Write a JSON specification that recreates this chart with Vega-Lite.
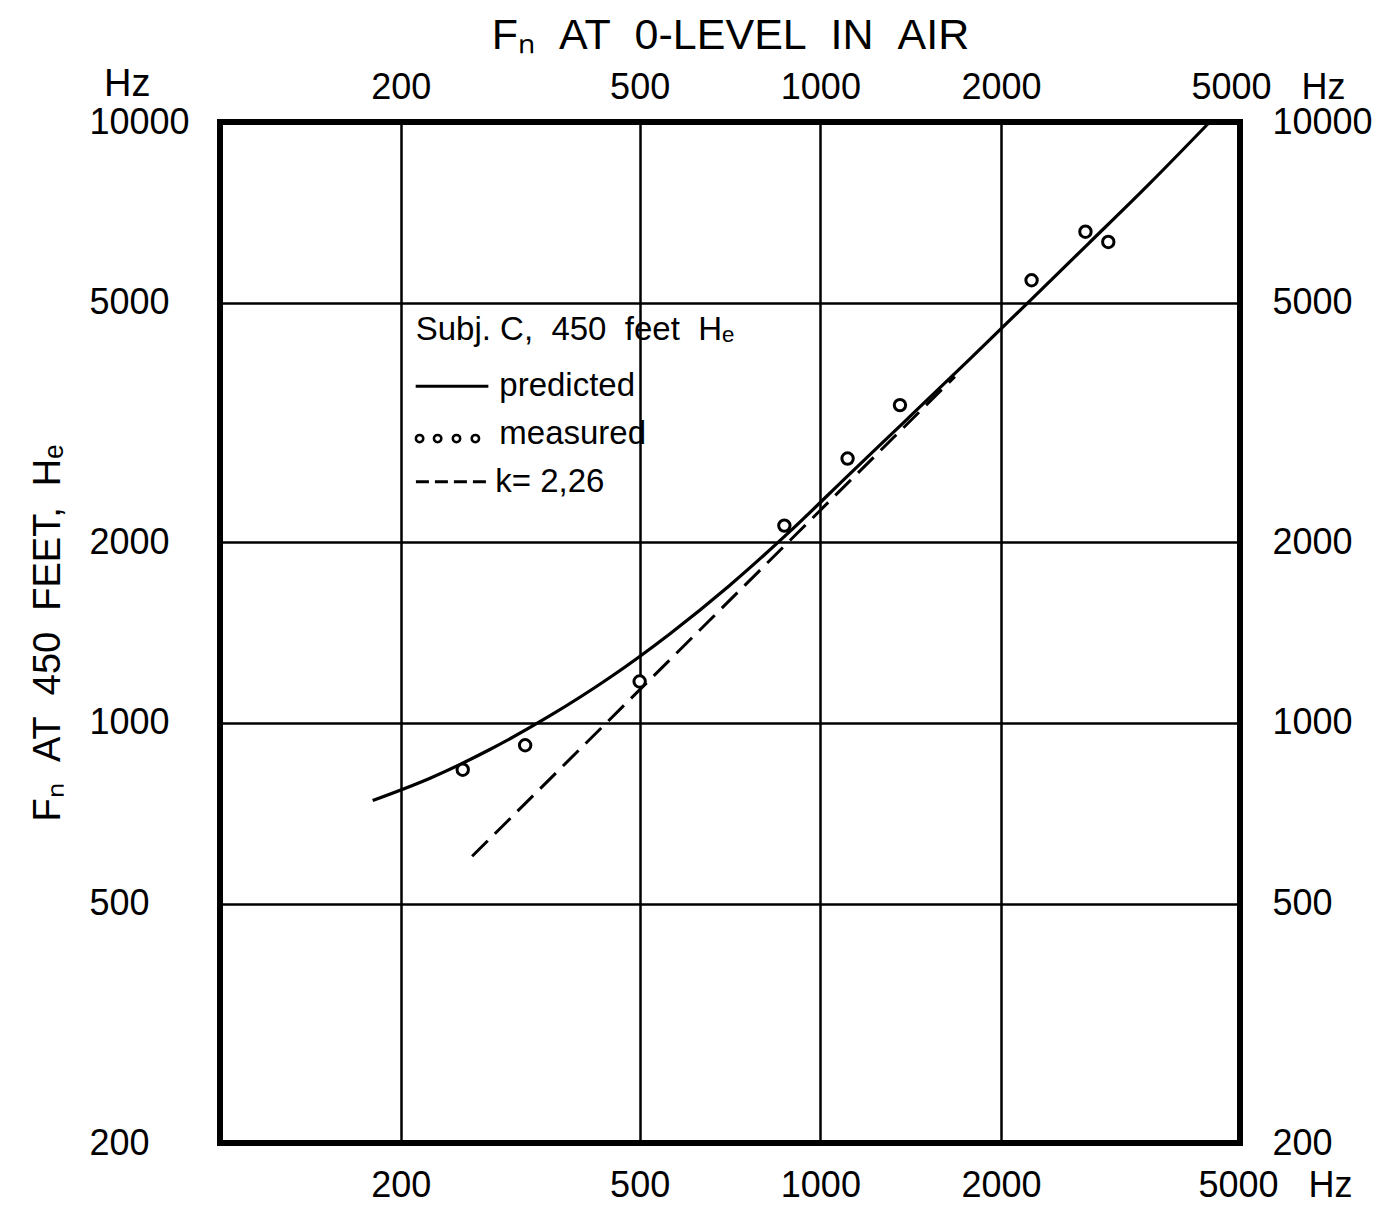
{
  "$schema": "https://vega.github.io/schema/vega-lite/v6.json",
  "autosize": "none",
  "width": 1020,
  "height": 1021,
  "padding": {"left": 220, "top": 122, "right": 136, "bottom": 66},
  "background": "white",
  "config": {
    "font": "Liberation Sans",
    "view": {"stroke": "black", "strokeWidth": 6},
    "axis": {"labelColor": "black", "titleColor": "black", "labelFont": "Liberation Sans", "titleFont": "Liberation Sans"}
  },
  "datasets": {
    "predicted": [
      {"f0": 179.6, "fh": 743},
      {"f0": 224.3, "fh": 810},
      {"f0": 282.0, "fh": 904},
      {"f0": 354.6, "fh": 1028},
      {"f0": 446.0, "fh": 1190},
      {"f0": 560.5, "fh": 1405},
      {"f0": 704.4, "fh": 1690},
      {"f0": 885.3, "fh": 2073},
      {"f0": 1113, "fh": 2582},
      {"f0": 1401, "fh": 3216},
      {"f0": 1763, "fh": 4009},
      {"f0": 2220, "fh": 5012},
      {"f0": 2799, "fh": 6282},
      {"f0": 3531, "fh": 7889},
      {"f0": 4452, "fh": 10000}
    ],
    "kline": [
      {"f0": 263, "fh": 600},
      {"f0": 1675, "fh": 3770}
    ],
    "measured": [
      {"f0": 253.7, "fh": 836},
      {"f0": 322.3, "fh": 918},
      {"f0": 500, "fh": 1172},
      {"f0": 871, "fh": 2130},
      {"f0": 1110, "fh": 2754},
      {"f0": 1357, "fh": 3380},
      {"f0": 2248, "fh": 5454},
      {"f0": 2764, "fh": 6568},
      {"f0": 3017, "fh": 6316}
    ],
    "legendText": [
      {"lx": 211.8, "ly": 4336, "label": "Subj. C,\u00a0\u00a0450\u00a0\u00a0feet\u00a0\u00a0Hₑ"},
      {"lx": 291.9, "ly": 3495, "label": "predicted"},
      {"lx": 291.9, "ly": 2916, "label": "measured"},
      {"lx": 287.4, "ly": 2425, "label": "k= 2,26"}
    ],
    "legendSolid": [{"x1": 211.8, "x2": 279.9, "y": 3633}],
    "legendDash": [{"x1": 212, "x2": 282, "y": 2520}],
    "legendDots": [
      {"x": 215, "y": 2973},
      {"x": 230.4, "y": 2973},
      {"x": 247.7, "y": 2973},
      {"x": 266.3, "y": 2973}
    ]
  },
  "layer": [
    {
      "data": {"name": "predicted"},
      "mark": {"type": "line", "color": "black", "strokeWidth": 3.2, "interpolate": "monotone"},
      "encoding": {
        "x": {
          "field": "f0", "type": "quantitative",
          "scale": {"type": "log", "domain": [100, 5000], "nice": false, "zero": false},
          "axis": {
            "orient": "bottom", "values": [200, 500, 1000, 2000, 5000], "format": "d",
            "grid": true, "gridColor": "black", "gridWidth": 2.5, "gridOpacity": 1,
            "ticks": false, "domain": false, "labelPadding": 25, "labelFontSize": 36,
            "labelExpr": "datum.value == 5000 ? '5000\u00a0\u00a0\u00a0Hz' : format(datum.value, 'd')",
            "labelOffset": {"condition": {"test": "datum.value == 5000", "value": 35}, "value": 0},
            "labelFlush": false, "labelOverlap": false, "labelBound": false, "title": null
          }
        },
        "y": {
          "field": "fh", "type": "quantitative",
          "scale": {"type": "log", "domain": [200, 10000], "nice": false, "zero": false},
          "axis": {
            "orient": "left", "values": [200, 500, 1000, 2000, 5000, 10000], "format": "d",
            "grid": true, "gridColor": "black", "gridWidth": 2.5, "gridOpacity": 1,
            "ticks": false, "domain": false, "labelPadding": 131, "labelFontSize": 36,
            "labelAlign": "left", "labelBaseline": "middle",
            "labelFlush": false, "labelOverlap": false, "labelBound": false,
            "title": "Fₙ\u00a0\u00a0AT\u00a0\u00a0450\u00a0\u00a0FEET,\u00a0\u00a0Hₑ", "titleFontSize": 38, "titleFontWeight": "normal", "titlePadding": 22
          }
        }
      }
    },
    {
      "data": {"name": "kline"},
      "mark": {"type": "line", "color": "black", "strokeWidth": 3, "strokeDash": [22, 10]},
      "encoding": {
        "x": {
          "field": "f0", "type": "quantitative",
          "axis": {
            "orient": "top", "values": [200, 500, 1000, 2000, 5000], "format": "d",
            "grid": false, "ticks": false, "domain": false, "labelPadding": 16, "labelFontSize": 36,
            "labelExpr": "datum.value == 5000 ? '5000\u00a0\u00a0\u00a0Hz' : format(datum.value, 'd')",
            "labelOffset": {"condition": {"test": "datum.value == 5000", "value": 28}, "value": 0},
            "labelFlush": false, "labelOverlap": false, "labelBound": false,
            "title": "Fₙ\u00a0\u00a0AT\u00a0\u00a00-LEVEL\u00a0\u00a0IN\u00a0\u00a0AIR", "titleFontSize": 43, "titleFontWeight": "normal", "titlePadding": 12
          }
        },
        "y": {
          "field": "fh", "type": "quantitative",
          "axis": {
            "orient": "right", "values": [200, 500, 1000, 2000, 5000, 10000], "format": "d",
            "grid": false, "ticks": false, "domain": false, "labelPadding": 32, "labelFontSize": 36,
            "labelAlign": "left", "labelBaseline": "middle",
            "labelFlush": false, "labelOverlap": false, "labelBound": false, "title": null
          }
        }
      }
    },
    {
      "data": {"name": "measured"},
      "mark": {"type": "point", "shape": "circle", "size": 130, "filled": true, "fill": "white", "stroke": "black", "strokeWidth": 3, "opacity": 1},
      "encoding": {
        "x": {"field": "f0", "type": "quantitative", "axis": null},
        "y": {"field": "fh", "type": "quantitative", "axis": null}
      }
    },
    {
      "data": {"name": "legendText"},
      "mark": {"type": "text", "align": "left", "baseline": "alphabetic", "fontSize": 33, "color": "black"},
      "encoding": {
        "x": {"field": "lx", "type": "quantitative", "axis": null},
        "y": {"field": "ly", "type": "quantitative", "axis": null},
        "text": {"field": "label"}
      }
    },
    {
      "data": {"name": "legendSolid"},
      "mark": {"type": "rule", "color": "black", "strokeWidth": 3},
      "encoding": {
        "x": {"field": "x1", "type": "quantitative", "axis": null},
        "x2": {"field": "x2"},
        "y": {"field": "y", "type": "quantitative", "axis": null}
      }
    },
    {
      "data": {"name": "legendDash"},
      "mark": {"type": "rule", "color": "black", "strokeWidth": 3, "strokeDash": [13, 6]},
      "encoding": {
        "x": {"field": "x1", "type": "quantitative", "axis": null},
        "x2": {"field": "x2"},
        "y": {"field": "y", "type": "quantitative", "axis": null}
      }
    },
    {
      "data": {"name": "legendDots"},
      "mark": {"type": "point", "shape": "circle", "size": 55, "filled": false, "stroke": "black", "strokeWidth": 2.5, "opacity": 1},
      "encoding": {
        "x": {"field": "x", "type": "quantitative", "axis": null},
        "y": {"field": "y", "type": "quantitative", "axis": null}
      }
    },
    {
      "data": {"values": [{"unit": "Hz"}]},
      "mark": {"type": "text", "align": "left", "baseline": "alphabetic", "fontSize": 38, "color": "black", "dx": -116, "dy": -26},
      "encoding": {
        "x": {"datum": 100, "type": "quantitative", "axis": null},
        "y": {"datum": 10000, "type": "quantitative", "axis": null},
        "text": {"field": "unit"}
      }
    }
  ],
  "resolve": {"axis": {"x": "independent", "y": "independent"}}
}
